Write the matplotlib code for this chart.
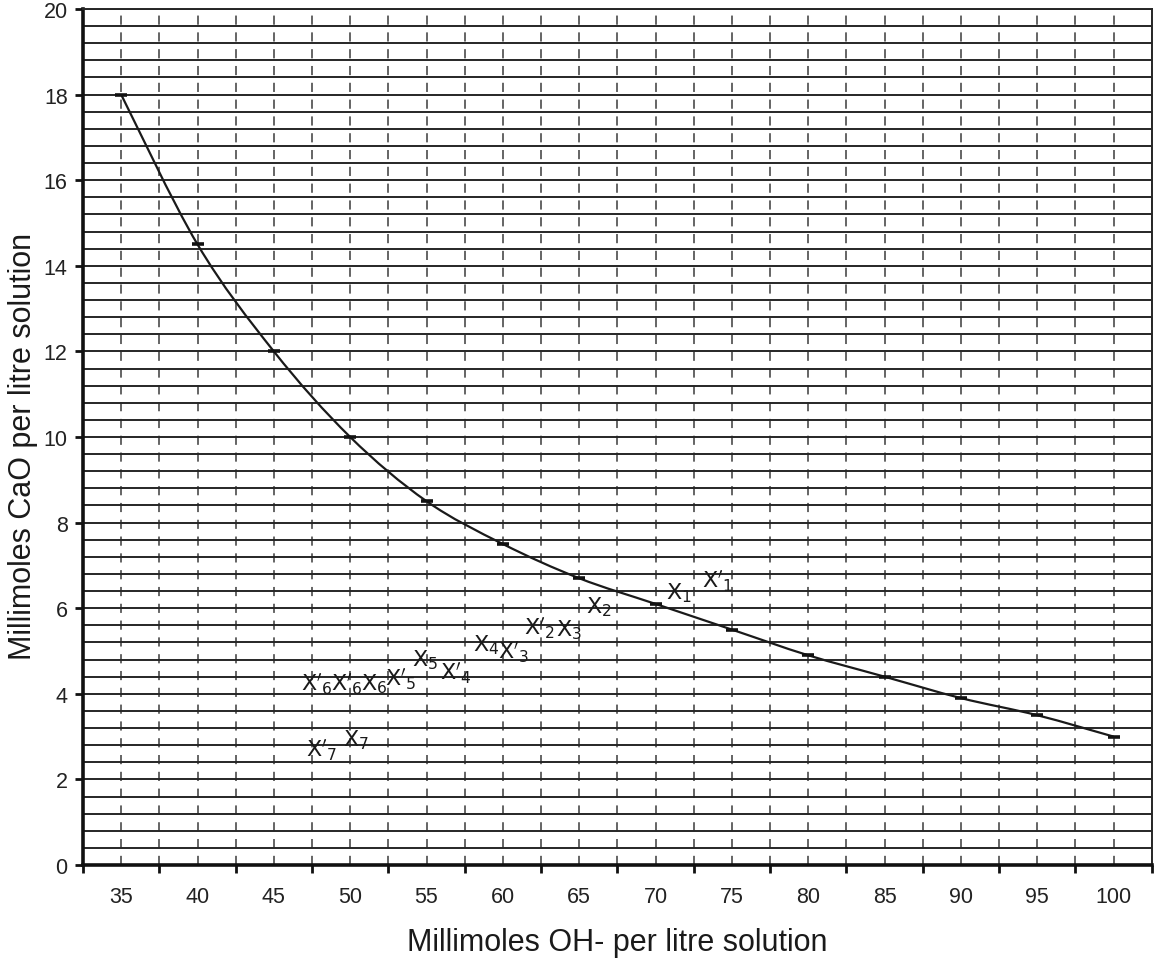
import numpy as np
import matplotlib
matplotlib.use("Agg")
import matplotlib.pyplot as plt
from matplotlib.path import Path
from matplotlib.patches import PathPatch
from matplotlib.ticker import FixedLocator, MultipleLocator

plt.rcParams['font.family'] = ['Liberation Sans', 'DejaVu Sans']

# OH- concentration (categories) and CaO solubility
oh_mmol = [35, 40, 45, 50, 55, 60, 65, 70, 75, 80, 85, 90, 95, 100]
cao_mmol = [18.0, 14.5, 12.0, 10.0, 8.5, 7.5, 6.7, 6.1, 5.5, 4.9, 4.4, 3.9, 3.5, 3.0]

# handwritten sample marks: label, category position, value
notes = [
    (r"$\mathsf{X}'_6$", 2.56, 4.25), (r"$\mathsf{X}'_6$", 2.95, 4.25), (r"$\mathsf{X}_6$", 3.31, 4.25),
    (r"$\mathsf{X}'_5$", 3.66, 4.35), (r"$\mathsf{X}_5$", 3.98, 4.80), (r"$\mathsf{X}'_4$", 4.38, 4.50),
    (r"$\mathsf{X}'_7$", 2.62, 2.70), (r"$\mathsf{X}_7$", 3.08, 2.95),
    (r"$\mathsf{X}_4$", 4.78, 5.15), (r"$\mathsf{X}'_3$", 5.14, 5.00), (r"$\mathsf{X}'_2$", 5.48, 5.55),
    (r"$\mathsf{X}_3$", 5.86, 5.50), (r"$\mathsf{X}_2$", 6.26, 6.05), (r"$\mathsf{X}_1$", 7.31, 6.38),
    (r"$\mathsf{X}'_1$", 7.81, 6.64),
]

fig = plt.figure(figsize=(11.61, 9.62), dpi=100)
ax = fig.add_axes([0.0715, 0.0998, 0.9205, 0.8898])

xs = np.arange(len(oh_mmol), dtype=float)
ys = np.array(cao_mmol)

# smoothed line through the points (cubic Bezier segments, Catmull-Rom style)
pts = np.column_stack([xs, ys])
verts = [pts[0]]
codes = [Path.MOVETO]
n = len(pts)
for i in range(n - 1):
    p0 = pts[i - 1] if i > 0 else pts[i]
    p1 = pts[i]
    p2 = pts[i + 1]
    p3 = pts[i + 2] if i + 2 < n else pts[i + 1]
    c1 = p1 + (p2 - p0) / 6.0
    c2 = p2 - (p3 - p1) / 6.0
    verts += [c1, c2, p2]
    codes += [Path.CURVE4] * 3
ax.add_patch(PathPatch(Path(verts, codes), facecolor='none',
                       edgecolor='#1a1a1a', lw=1.6, zorder=4))
ax.plot(xs, ys, ls='none', marker='_', ms=8, mew=2.6, color='#111111', zorder=5)

ax.set_xlim(-0.5, len(oh_mmol) - 0.5)
ax.set_ylim(0, 20)

# category axis: ticks on boundaries, labels in the middle
ax.xaxis.set_major_locator(FixedLocator(np.arange(-0.5, len(oh_mmol), 1.0)))
ax.set_xticklabels([])
ax.set_xticks(xs, minor=True)
ax.set_xticklabels([str(v) for v in oh_mmol], minor=True)
ax.tick_params(axis='x', which='major', direction='out', length=6, width=2, color='#111')
ax.tick_params(axis='x', which='minor', length=0, labelsize=15.5, pad=15, labelcolor='#222')

ax.yaxis.set_major_locator(MultipleLocator(2))
ax.yaxis.set_minor_locator(MultipleLocator(0.4))
ax.tick_params(axis='y', which='major', direction='out', length=6, width=2,
               color='#111', labelsize=15.5, labelcolor='#222', pad=5)
ax.tick_params(axis='y', which='minor', length=0)

# grid: solid horizontal lines, broken vertical lines
ax.grid(axis='y', which='both', color='#262626', lw=1.4, ls='-', zorder=1)
ax.grid(axis='x', which='both', color='#3a3a3a', lw=1.1, ls=(0, (6, 5)), zorder=1)
ax.set_axisbelow(True)

for side in ('left', 'bottom'):
    ax.spines[side].set_linewidth(2.6)
    ax.spines[side].set_color('#111')
for side in ('top', 'right'):
    ax.spines[side].set_linewidth(1.4)
    ax.spines[side].set_color('#262626')

ax.set_xlabel('Millimoles OH- per litre solution', fontsize=22, color='#1a1a1a')
ax.set_ylabel('Millimoles CaO per litre solution', fontsize=22, color='#1a1a1a')
ax.xaxis.set_label_coords(0.5, -0.072)
ax.yaxis.set_label_coords(-0.042, 0.49)

for label, x, y in notes:
    ax.text(x, y, label, fontsize=16, color='#1a1a1a', ha='center', va='center', zorder=6)

fig.savefig('out.png', dpi=100)
